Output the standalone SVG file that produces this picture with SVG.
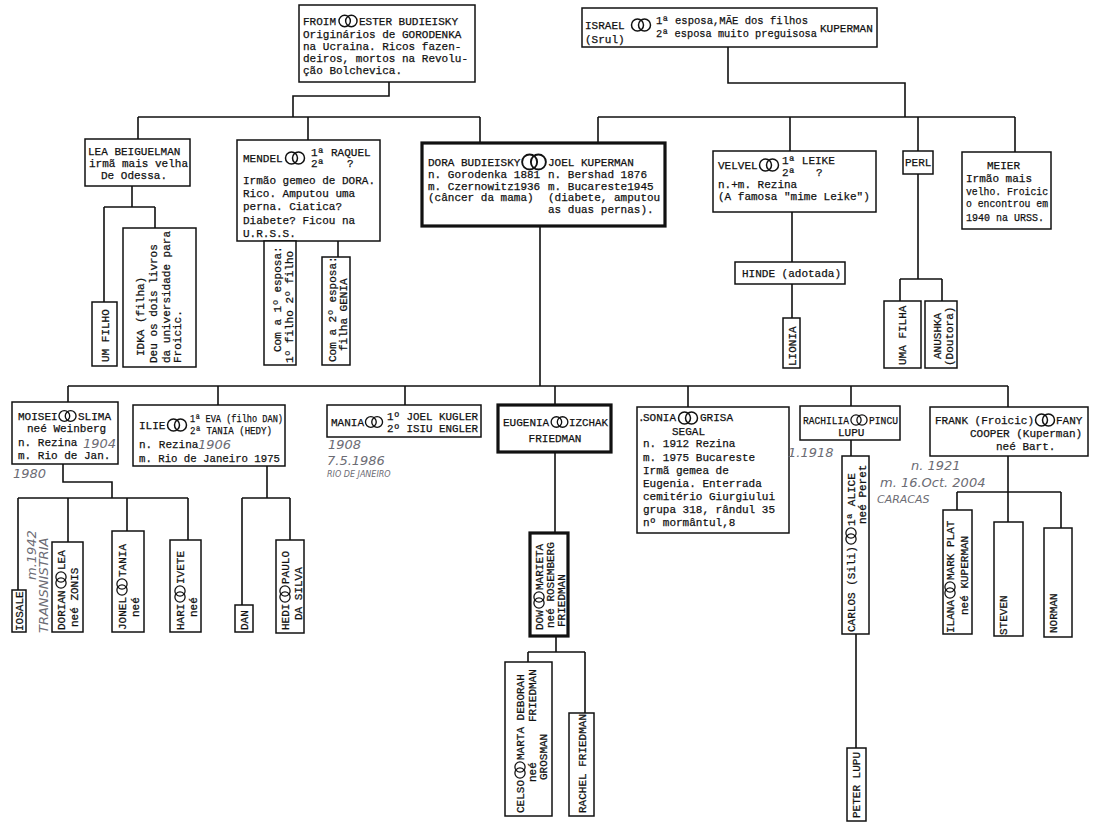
<svg xmlns="http://www.w3.org/2000/svg" xmlns:xlink="http://www.w3.org/1999/xlink" width="1103" height="824" viewBox="0 0 1103 824">
<style>
.b{fill:#fff;stroke:#111;stroke-width:1.5}
.k{fill:#fff;stroke:#111;stroke-width:3.2}
#conn path{fill:none;stroke:#111;stroke-width:1.6}
text{font-family:"Liberation Mono","DejaVu Sans Mono",monospace;font-size:11px;fill:#111;stroke:#111;stroke-width:0.25}
text.h{font-family:"DejaVu Sans","Liberation Sans",sans-serif;font-style:italic;fill:#6c6c74;stroke:none;font-size:13px}
text.hs{font-family:"DejaVu Sans","Liberation Sans",sans-serif;font-style:italic;fill:#6c6c74;stroke:none;font-size:8px}
</style>
<defs>
<g id="r"><circle cx="-3.5" cy="0" r="6" fill="none" stroke="#111" stroke-width="1.5"/><circle cx="3.5" cy="0" r="6" fill="none" stroke="#111" stroke-width="1.5"/></g>
</defs>
<rect width="1103" height="824" fill="#fff"/>
<g id="conn">
<path d="M389,82V96H293V117M138,117H480M138,117V139M308,117V140M480,117V143"/>
<path d="M728,47V83H905V117M598,117H1015M598,117V143M790,117V151M918,117V151M1015,117V152"/>
<path d="M132,186V207M104,207H155M104,207V302M155,207V228"/>
<path d="M338,241V257"/>
<path d="M792,212V262M792,284V318"/>
<path d="M918,174V279M900,279H942M900,279V301M942,279V301"/>
<path d="M540,226V386M68,386H1008M68,386V402M218,386V405M405,386V405M555,386V405M688,386V407M851,386V406M1008,386V407"/>
<path d="M63,464V482H112V498M18,498H188M18,498V590M68,498V542M127,498V531M188,498V540"/>
<path d="M267,466V498M242,498H290M242,498V605M290,498V540"/>
<path d="M555,452V533M556,636V652M528,652H585M528,652V662M585,652V713"/>
<path d="M851,440V456M856,634V748"/>
<path d="M1008,456V522M957,492H1061M957,492V510M1061,492V528"/>
</g>
<g id="froim"><rect class="b" x="299" y="5" width="176" height="77"/>
<text x="303" y="25">FROIM</text><use xlink:href="#r" transform="translate(348,21) scale(0.95)"/><text x="359" y="25">ESTER BUDIEISKY</text>
<text x="303" y="38">Originários de GORODENKA</text>
<text x="303" y="50">na Ucraina. Ricos fazen-</text>
<text x="303" y="62">deiros, mortos na Revolu-</text>
<text x="303" y="74">ção Bolchevica.</text></g>
<g id="israel"><rect class="b" x="582" y="8" width="295" height="39"/>
<text x="585" y="29">ISRAEL</text><use xlink:href="#r" transform="translate(641,25)"/>
<text x="656" y="24" textLength="152" lengthAdjust="spacingAndGlyphs">1ª esposa,MÃE dos filhos</text>
<text x="656" y="37" textLength="161" lengthAdjust="spacingAndGlyphs">2ª esposa muito preguisosa</text>
<text x="820" y="32">KUPERMAN</text>
<text x="585" y="43">(Srul)</text></g>
<g id="lea"><rect class="b" x="85" y="139" width="105" height="47"/>
<text x="88" y="155">LEA BEIGUELMAN</text>
<text x="89" y="167">irmã mais velha</text>
<text x="101" y="179">De Odessa.</text></g>
<g id="mendel"><rect class="b" x="237" y="140" width="143" height="101"/>
<text x="243" y="162">MENDEL</text><use xlink:href="#r" transform="translate(295,158)"/>
<text x="311" y="156">1ª</text><text x="331" y="156">RAQUEL</text>
<text x="311" y="167">2ª</text><text x="347" y="167">?</text>
<text x="243" y="184">Irmão gemeo de DORA.</text>
<text x="243" y="197">Rico. Amputou uma</text>
<text x="243" y="210">perna. Ciatica?</text>
<text x="243" y="224">Diabete? Ficou na</text>
<text x="243" y="237">U.R.S.S.</text></g>
<g id="dora"><rect class="k" x="422" y="143" width="243" height="83"/>
<text x="428" y="166">DORA BUDIEISKY</text><use xlink:href="#r" transform="translate(534,162) scale(1.25)"/><text x="548" y="166">JOEL KUPERMAN</text>
<text x="428" y="178">n. Gorodenka 1881</text><text x="548" y="178">n. Bershad 1876</text>
<text x="428" y="190">m. Czernowitz1936</text><text x="548" y="190">m. Bucareste1945</text>
<text x="428" y="201">(câncer da mama)</text><text x="548" y="201">(diabete, amputou</text>
<text x="548" y="213">as duas pernas).</text></g>
<g id="velvel"><rect class="b" x="713" y="151" width="163" height="61"/>
<text x="718" y="169">VELVEL</text><use xlink:href="#r" transform="translate(769,165)"/>
<text x="782" y="164">1ª LEIKE</text><text x="782" y="176">2ª</text><text x="816" y="176">?</text>
<text x="718" y="188">n.+m. Rezina</text>
<text x="718" y="200">(A famosa "mime Leike")</text></g>
<g id="perl"><rect class="b" x="903" y="151" width="30" height="23"/><text x="905" y="166">PERL</text></g>
<g id="meier"><rect class="b" x="962" y="152" width="89" height="77"/>
<text x="987" y="169">MEIER</text>
<text x="966" y="182">Irmão mais</text>
<text x="966" y="195" textLength="82" lengthAdjust="spacingAndGlyphs">velho. Froicic</text>
<text x="966" y="207" textLength="82" lengthAdjust="spacingAndGlyphs">o encontrou em</text>
<text x="966" y="221" textLength="78" lengthAdjust="spacingAndGlyphs">1940 na URSS.</text></g>
<g id="umfilho"><rect class="b" x="92" y="302" width="25" height="64"/><text transform="translate(108.7,362) rotate(-90)">UM FILHO</text></g>
<g id="idka"><rect class="b" x="123" y="228" width="73" height="139"/>
<text transform="translate(143.7,356) rotate(-90)">IDKA (filha)</text>
<text transform="translate(156.7,363) rotate(-90)">Deu os dois livros</text>
<text transform="translate(169.7,363) rotate(-90)">da universidade para</text>
<text transform="translate(180.7,363) rotate(-90)">Froicic.</text></g>
<g id="com1"><rect class="b" x="264" y="241" width="32" height="124"/>
<text transform="translate(280.7,352) rotate(-90)">Com a 1º esposa:</text>
<text transform="translate(292.7,363) rotate(-90)">1º filho  2º filho</text></g>
<g id="genia"><rect class="b" x="322" y="257" width="28" height="108"/>
<text transform="translate(335.7,362) rotate(-90)">Com a 2º esposa:</text>
<text transform="translate(346.7,351) rotate(-90)">filha  GENIA</text></g>
<g id="hinde"><rect class="b" x="735" y="262" width="110" height="22"/><text x="742" y="277">HINDE (adotada)</text></g>
<g id="lionia"><rect class="b" x="783" y="318" width="17" height="50"/><text transform="translate(795.7,366) rotate(-90)">LIONIA</text></g>
<g id="umafilha"><rect class="b" x="884" y="301" width="37" height="67"/><text transform="translate(905.7,365) rotate(-90)">UMA FILHA</text></g>
<g id="anushka"><rect class="b" x="925" y="301" width="32" height="67"/>
<text transform="translate(940.7,359) rotate(-90)">ANUSHKA</text>
<text transform="translate(952.7,366) rotate(-90)">(Doutora)</text></g>
<g id="moisei"><rect class="b" x="12" y="402" width="106" height="62"/>
<text x="18" y="420">MOISEI</text><use xlink:href="#r" transform="translate(67.5,416) scale(0.9)"/><text x="78" y="420">SLIMA</text>
<text x="27" y="432">neé Weinberg</text>
<text x="18" y="446">n. Rezina</text><text class="h" x="83" y="448">1904</text>
<text x="18" y="459">m. Rio de Jan.</text>
<text class="h" x="13" y="478">1980</text></g>
<g id="ilie"><rect class="b" x="133" y="405" width="152" height="61"/>
<text x="139" y="429">ILIE</text><use xlink:href="#r" transform="translate(177,425)"/>
<text x="190" y="422" textLength="93" lengthAdjust="spacingAndGlyphs">1ª EVA (filho DAN)</text>
<text x="190" y="434" textLength="82" lengthAdjust="spacingAndGlyphs">2ª TANIA (HEDY)</text>
<text x="139" y="448">n. Rezina</text><text class="h" x="198" y="449">1906</text>
<text x="139" y="462" textLength="141" lengthAdjust="spacingAndGlyphs">m. Rio de Janeiro 1975</text></g>
<g id="mania"><rect class="b" x="327" y="405" width="154" height="32"/>
<text x="331" y="426">MANIA</text><use xlink:href="#r" transform="translate(374,422) scale(0.9)"/>
<text x="387" y="420" textLength="91" lengthAdjust="spacingAndGlyphs">1º JOEL KUGLER</text>
<text x="387" y="432" textLength="91" lengthAdjust="spacingAndGlyphs">2º ISIU ENGLER</text>
<text class="h" x="328" y="449">1908</text>
<text class="h" x="327" y="465">7.5.1986</text>
<text class="hs" x="327" y="477">RIO DE JANEIRO</text></g>
<g id="eugenia"><rect class="k" x="498" y="405" width="113" height="47"/>
<text x="503" y="426">EUGENIA</text><use xlink:href="#r" transform="translate(559.5,422) scale(0.88)"/><text x="569" y="426" textLength="39" lengthAdjust="spacingAndGlyphs">IZCHAK</text>
<text x="555" y="442" text-anchor="middle">FRIEDMAN</text></g>
<g id="sonia"><rect class="b" x="637" y="407" width="152" height="126"/>
<text x="638" y="421">.</text><text x="643" y="421">SONIA</text><use xlink:href="#r" transform="translate(688,418)"/><text x="700" y="421">GRISA</text>
<text x="672" y="435">SEGAL</text>
<text x="643" y="447">n. 1912 Rezina</text>
<text x="643" y="461">m. 1975 Bucareste</text>
<text x="643" y="474">Irmã gemea de</text>
<text x="643" y="487">Eugenia. Enterrada</text>
<text x="643" y="500">cemitério Giurgiului</text>
<text x="643" y="513">grupa 318, rândul 35</text>
<text x="643" y="526">nº mormântul,8</text></g>
<g id="rachilia"><rect class="b" x="800" y="406" width="100" height="34"/>
<text x="803" y="424" textLength="46" lengthAdjust="spacingAndGlyphs">RACHILIA</text><use xlink:href="#r" transform="translate(859,420) scale(0.85)"/><text x="869" y="424" textLength="29" lengthAdjust="spacingAndGlyphs">PINCU</text>
<text x="838" y="436">LUPU</text>
<text class="h" x="788" y="457">1.1918</text></g>
<g id="frank"><rect class="b" x="930" y="407" width="158" height="49"/>
<text x="935" y="424">FRANK (Froicic)</text><use xlink:href="#r" transform="translate(1045,420)"/><text x="1056" y="424">FANY</text>
<text x="970" y="437">COOPER (Kuperman)</text>
<text x="996" y="450">neé Bart.</text>
<text class="h" x="911" y="470">n. 1921</text>
<text class="h" x="880" y="487">m. 16.Oct. 2004</text>
<text class="h" x="877" y="503" style="font-size:11px">CARACAS</text></g>
<g id="iosale"><rect class="b" x="12" y="590" width="14" height="42"/>
<text transform="translate(22.7,631) rotate(-90)">IOSALE</text>
<text class="h" transform="translate(36,580) rotate(-90)">m.1942</text>
<text class="h" transform="translate(48,633) rotate(-90)">TRANSNISTRIA</text></g>
<g id="dorian"><rect class="b" x="52" y="542" width="31" height="90"/>
<text transform="translate(64.7,630) rotate(-90)">DORIAN</text><use xlink:href="#r" transform="translate(61,580) rotate(90) scale(0.85)"/><text transform="translate(64.7,570) rotate(-90)">LEA</text>
<text transform="translate(77.7,627) rotate(-90)">neé  ZONIS</text></g>
<g id="jonel"><rect class="b" x="112" y="531" width="32" height="101"/>
<text transform="translate(125.7,630) rotate(-90)">JONEL</text><use xlink:href="#r" transform="translate(122,587) rotate(90) scale(0.85)"/><text transform="translate(125.7,577) rotate(-90)">TANIA</text>
<text transform="translate(138.7,617) rotate(-90)">neé</text></g>
<g id="hari"><rect class="b" x="170" y="540" width="31" height="92"/>
<text transform="translate(183.7,630) rotate(-90)">HARI</text><use xlink:href="#r" transform="translate(180,594) rotate(90) scale(0.85)"/><text transform="translate(183.7,584) rotate(-90)">IVETE</text>
<text transform="translate(196.7,617) rotate(-90)">neé</text></g>
<g id="dan"><rect class="b" x="235" y="605" width="18" height="27"/><text transform="translate(247.7,630) rotate(-90)">DAN</text></g>
<g id="hedi"><rect class="b" x="276" y="540" width="28" height="93"/>
<text transform="translate(288.7,630) rotate(-90)">HEDI</text><use xlink:href="#r" transform="translate(285,594) rotate(90) scale(0.85)"/><text transform="translate(288.7,584) rotate(-90)">PAULO</text>
<text transform="translate(301.7,620) rotate(-90)">DA SILVA</text></g>
<g id="dow"><rect class="k" x="530" y="533" width="38" height="103"/>
<text transform="translate(542.5,630) rotate(-90)">DOW</text><use xlink:href="#r" transform="translate(539,600) rotate(90) scale(0.85)"/><text transform="translate(542.5,590) rotate(-90)">MARIETA</text>
<text transform="translate(553.5,628) rotate(-90)">neé ROSEMBERG</text>
<text transform="translate(564.5,627) rotate(-90)">FRIEDMAN</text></g>
<g id="celso"><rect class="b" x="505" y="662" width="47" height="154"/>
<text transform="translate(523.7,813) rotate(-90)">CELSO</text><use xlink:href="#r" transform="translate(520,770) rotate(90) scale(0.85)"/><text transform="translate(523.7,760) rotate(-90)">MARTA DEBORAH</text>
<text transform="translate(535.7,782) rotate(-90)">neé</text><text transform="translate(535.7,722) rotate(-90)">FRIEDMAN</text>
<text transform="translate(547.2,780) rotate(-90)">GROSMAN</text></g>
<g id="rachel"><rect class="b" x="569" y="713" width="25" height="103"/><text transform="translate(585.7,813) rotate(-90)">RACHEL FRIEDMAN</text></g>
<g id="carlos"><rect class="b" x="842" y="456" width="27" height="178"/>
<text transform="translate(854.7,632) rotate(-90)">CARLOS (Sili)</text><use xlink:href="#r" transform="translate(851,536) rotate(90) scale(0.85)"/><text transform="translate(854.7,526) rotate(-90)">1ª ALICE</text>
<text transform="translate(865.7,524) rotate(-90)">neé Peret</text></g>
<g id="peter"><rect class="b" x="847" y="748" width="19" height="73"/><text transform="translate(859.7,818) rotate(-90)">PETER LUPU</text></g>
<g id="ilana"><rect class="b" x="943" y="510" width="29" height="124"/>
<text transform="translate(953.7,633) rotate(-90)">ILANA</text><use xlink:href="#r" transform="translate(950,590) rotate(90) scale(0.85)"/><text transform="translate(953.7,580) rotate(-90)">MARK PLAT</text>
<text transform="translate(967.7,615) rotate(-90)">neé KUPERMAN</text></g>
<g id="steven"><rect class="b" x="994" y="522" width="29" height="114"/><text transform="translate(1006.7,635) rotate(-90)">STEVEN</text></g>
<g id="norman"><rect class="b" x="1044" y="528" width="28" height="109"/><text transform="translate(1056.7,633) rotate(-90)">NORMAN</text></g>
</svg>
